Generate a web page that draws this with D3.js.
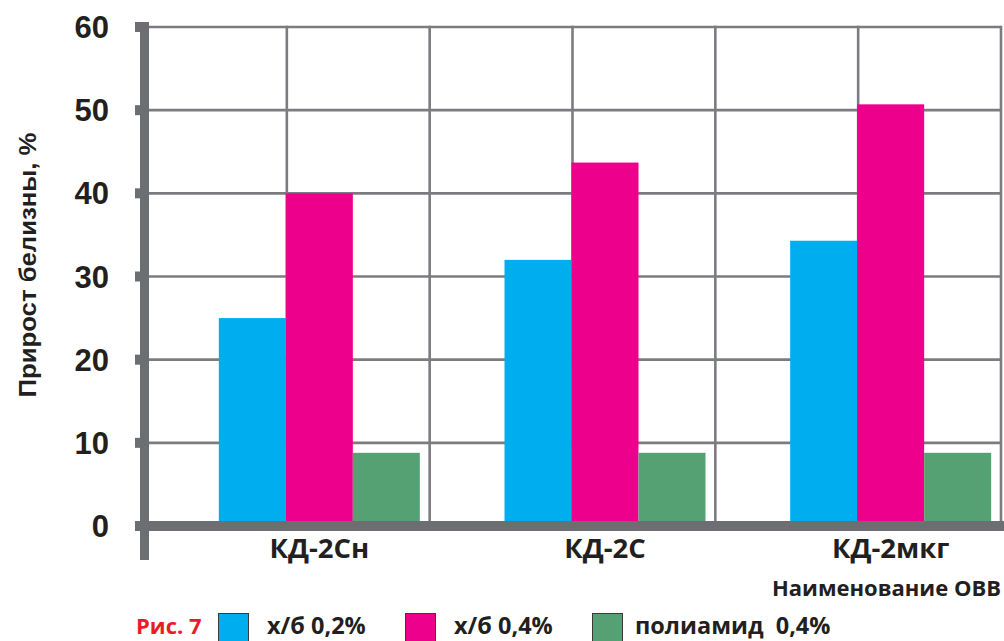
<!DOCTYPE html>
<html><head><meta charset="utf-8">
<script src="https://cdn.jsdelivr.net/npm/d3@7"></script>
<style>
html,body{margin:0;padding:0;background:#fff;}
svg{display:block;}
</style></head>
<body>
<svg id="chart" width="1004" height="641"></svg>
<script>
const categories = ["КД-2Сн", "КД-2С", "КД-2мкг"];
const seriesNames = ["х/б 0,2%", "х/б 0,4%", "полиамид  0,4%"];
const seriesColors = ["#00aeef", "#ec008c", "#55a174"];
const valuesCotton02 = [25, 32, 34.3];
const valuesCotton04 = [40, 43.7, 50.7];
const valuesPolyamide04 = [8.8, 8.8, 8.8];
const yTicks = [0, 10, 20, 30, 40, 50, 60];
const yTitle = "Прирост белизны, %";
const xTitle = "Наименование ОВВ";
const figLabel = "Рис. 7";

const seriesValues = [valuesCotton02, valuesCotton04, valuesPolyamide04];

const svg = d3.select("#chart");
const axisColor = "#6d6e71";
const gridColor = "#7b7c7f";
const boldSans = "'Liberation Sans', Arial, sans-serif";
const myriad = "'Open Sans', 'Noto Sans', sans-serif";

const x0 = d3.scaleBand().domain(categories).range([144, 1001]).padding(0);
const x1 = d3.scaleBand().domain(seriesNames).range([-68, 133]).padding(0);
const y = d3.scaleLinear().domain([0, 60]).range([526, 27]);

// horizontal grid
svg.append("g").selectAll("line").data(yTicks.filter(d => d > 0)).join("line")
  .attr("x1", 148).attr("x2", 1001)
  .attr("y1", d => y(d)).attr("y2", d => y(d))
  .attr("stroke", gridColor).attr("stroke-width", 2.6);

// vertical grid: band centres and band edges
const vLines = [];
categories.forEach(c => {
  vLines.push(x0(c) + x0.bandwidth() / 2);
  vLines.push(x0(c) + x0.bandwidth());
});
svg.append("g").selectAll("line").data(vLines).join("line")
  .attr("x1", d => d).attr("x2", d => d)
  .attr("y1", y(60) - 1.3).attr("y2", y(0))
  .attr("stroke", gridColor).attr("stroke-width", 2.6);

// bars
const groups = svg.append("g").selectAll("g").data(categories).join("g")
  .attr("transform", c => `translate(${x0(c) + x0.bandwidth() / 2},0)`);
groups.selectAll("rect")
  .data((c, i) => seriesNames.map((s, k) => ({ s, k, v: seriesValues[k][i] })))
  .join("rect")
  .attr("x", d => x1(d.s))
  .attr("width", x1.bandwidth())
  .attr("y", d => y(d.v))
  .attr("height", d => y(0) - y(d.v))
  .attr("fill", d => seriesColors[d.k]);

// y axis (thick)
svg.append("rect").attr("x", 140).attr("y", 22).attr("width", 9).attr("height", 538).attr("fill", axisColor);
svg.append("g").selectAll("rect").data(yTicks.filter(d => d > 0)).join("rect")
  .attr("x", 135).attr("width", 6)
  .attr("y", d => y(d) - 5).attr("height", 10).attr("fill", axisColor);
// x axis (thick baseline)
svg.append("rect").attr("x", 135).attr("y", 521).attr("width", 869).attr("height", 10).attr("fill", axisColor);

// y tick labels
svg.append("g").selectAll("text").data(yTicks).join("text")
  .attr("x", 109).attr("y", d => y(d))
  .attr("dy", "0.36em")
  .attr("text-anchor", "end")
  .attr("font-family", boldSans).attr("font-weight", "bold").attr("font-size", 31)
  .attr("fill", "#231f20")
  .text(d => d);

// y title
svg.append("text")
  .attr("transform", "translate(36,265) rotate(-90)")
  .attr("text-anchor", "middle")
  .attr("font-family", boldSans).attr("font-weight", "bold").attr("font-size", 23)
  .attr("textLength", 265).attr("lengthAdjust", "spacingAndGlyphs")
  .attr("fill", "#231f20")
  .text(yTitle);

// category labels
svg.append("g").selectAll("text").data(categories).join("text")
  .attr("x", c => x0(c) + x0.bandwidth() / 2 + (x1.range()[0] + x1.range()[1]) / 2)
  .attr("y", 558)
  .attr("text-anchor", "middle")
  .attr("font-family", myriad).attr("font-weight", "bold").attr("font-size", 27.5)
  .attr("fill", "#231f20")
  .text(c => c);

// x title
svg.append("text")
  .attr("x", 1001).attr("y", 596)
  .attr("text-anchor", "end")
  .attr("font-family", myriad).attr("font-weight", "bold").attr("font-size", 22)
  .attr("fill", "#231f20")
  .text(xTitle);

// legend
svg.append("text")
  .attr("x", 136).attr("y", 634)
  .attr("font-family", myriad).attr("font-weight", "bold").attr("font-size", 22)
  .attr("fill", "#ed1c24")
  .text(figLabel);

const legendX = [218, 405, 592];
const leg = svg.append("g").selectAll("g").data(seriesNames).join("g")
  .attr("transform", (d, i) => `translate(${legendX[i]},613)`);
leg.append("rect").attr("x", 0.5).attr("y", 0.5).attr("width", 30).attr("height", 32)
  .attr("fill", (d, i) => seriesColors[i]).attr("stroke", "#3a3a3c").attr("stroke-width", 1);
leg.append("text").attr("x", (d, i) => i === 2 ? 43 : 49).attr("y", 21)
  .attr("font-family", myriad).attr("font-weight", "bold").attr("font-size", 23.5)
  .attr("fill", "#231f20")
  .attr("xml:space", "preserve")
  .style("white-space", "pre")
  .text(d => d);
</script>
</body></html>
